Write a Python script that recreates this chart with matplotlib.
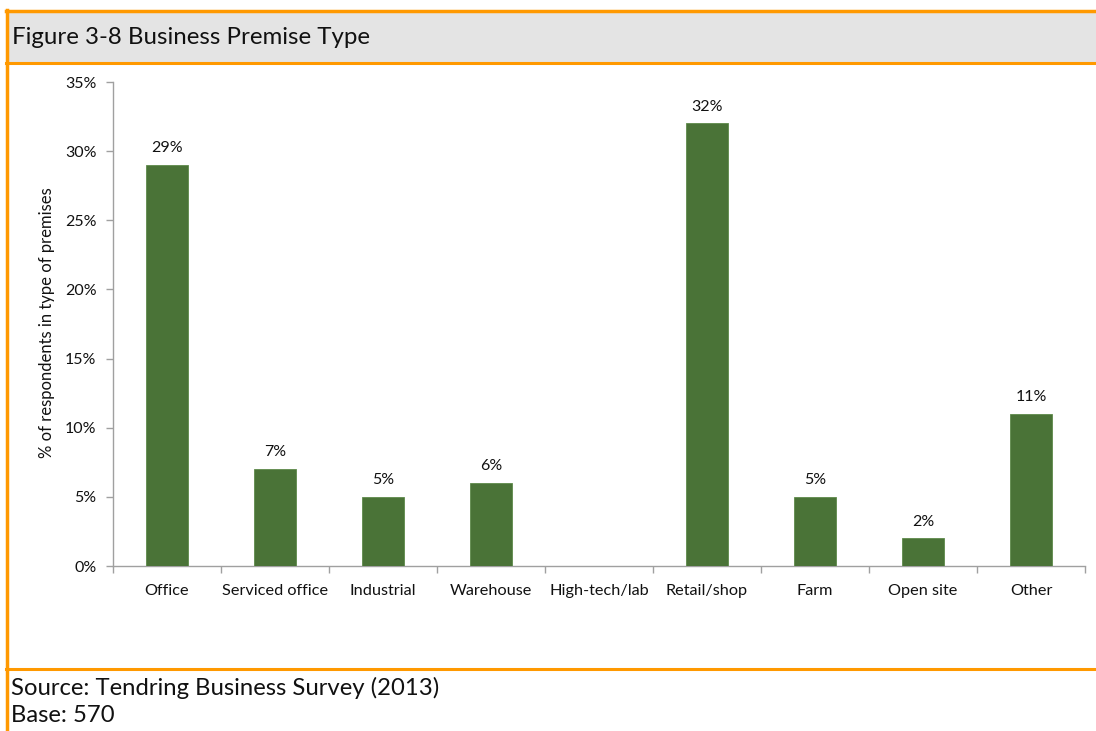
import matplotlib
matplotlib.use("Agg")
import matplotlib.pyplot as plt
from matplotlib.lines import Line2D
from matplotlib.patches import Rectangle
from matplotlib.ticker import FuncFormatter, MultipleLocator

categories = ["Office", "Serviced office", "Industrial", "Warehouse", "High-tech/lab",
              "Retail/shop", "Farm", "Open site", "Other"]
values = [29, 7, 5, 6, 0, 32, 5, 2, 11]
labels = ["29%", "7%", "5%", "6%", "", "32%", "5%", "2%", "11%"]

title = "Figure 3-8 Business Premise Type"
ylabel = "% of respondents in type of premises"
source = "Source: Tendring Business Survey (2013)"
base = "Base: 570"

plt.rcParams['font.family'] = ['Lato', 'DejaVu Sans']

W, H = 1096, 731
fig = plt.figure(figsize=(W / 100, H / 100), dpi=100)
fig.patch.set_facecolor("white")

def fx(px):
    return px / W

def fy(py):
    return 1 - py / H

orange = "#FF9900"
ink = "#111111"

# Title band and frame lines
fig.patches.append(Rectangle((fx(7), fy(62)), 1, fy(12) - fy(62), transform=fig.transFigure,
                             facecolor="#E4E4E4", edgecolor="none", zorder=0))
fig.lines.append(Line2D([fx(6), 1], [fy(11), fy(11)], transform=fig.transFigure, color=orange, lw=2.5))
fig.lines.append(Line2D([fx(6), 1], [fy(62.5), fy(62.5)], transform=fig.transFigure, color=orange, lw=2.2))
fig.lines.append(Line2D([fx(6), 1], [fy(669), fy(669)], transform=fig.transFigure, color=orange, lw=2.2))
fig.lines.append(Line2D([fx(6.5), fx(6.5)], [fy(10), 0], transform=fig.transFigure, color=orange, lw=2.5))

fig.text(fx(12), fy(38), title, fontsize=17.3, va="center", ha="left", color=ink)
fig.text(fx(11), fy(688), source, fontsize=17.2, va="center", ha="left", color=ink)
fig.text(fx(11), fy(715), base, fontsize=17.2, va="center", ha="left", color=ink)

# Plot area
x0, x1, y0, y1 = 113, 1085, 566, 82
ax = fig.add_axes([fx(x0), fy(y0), fx(x1) - fx(x0), fy(y1) - fy(y0)])
x = list(range(len(categories)))
ax.bar(x, values, width=0.39, color="#4A7337", edgecolor="#5E8A4A", linewidth=0.6, zorder=3)
for xi, v, lab in zip(x, values, labels):
    if lab:
        ax.annotate(lab, (xi, v), xytext=(0, 7), textcoords="offset points",
                    ha="center", va="bottom", fontsize=11.5, color=ink)

ax.set_xlim(-0.5, len(categories) - 0.5)
ax.set_ylim(0, 35)
ax.yaxis.set_major_locator(MultipleLocator(5))
ax.yaxis.set_major_formatter(FuncFormatter(lambda v, p: f"{v:.0f}%"))
ax.set_xticks([i - 0.5 for i in range(len(categories) + 1)], minor=False)
ax.set_xticklabels([])
ax.set_xticks(x, minor=True)
ax.set_xticklabels(categories, minor=True)
ax.tick_params(axis="x", which="minor", length=0, pad=13, labelsize=11.7, labelcolor=ink)
ax.tick_params(axis="x", which="major", length=5, width=1, color="#A0A0A0", direction="out")
ax.tick_params(axis="y", length=5, width=1, color="#A0A0A0", direction="out", pad=7,
               labelsize=11.5, labelcolor=ink)

for s in ["top", "right"]:
    ax.spines[s].set_visible(False)
for s in ["left", "bottom"]:
    ax.spines[s].set_color("#A0A0A0")
    ax.spines[s].set_linewidth(1)

ax.set_ylabel(ylabel, fontsize=12, color=ink, va="center")
ax.yaxis.set_label_coords((47 - x0) / (x1 - x0), (y0 - 323) / (y0 - y1))

fig.savefig("out.png", dpi=100, facecolor="white")
